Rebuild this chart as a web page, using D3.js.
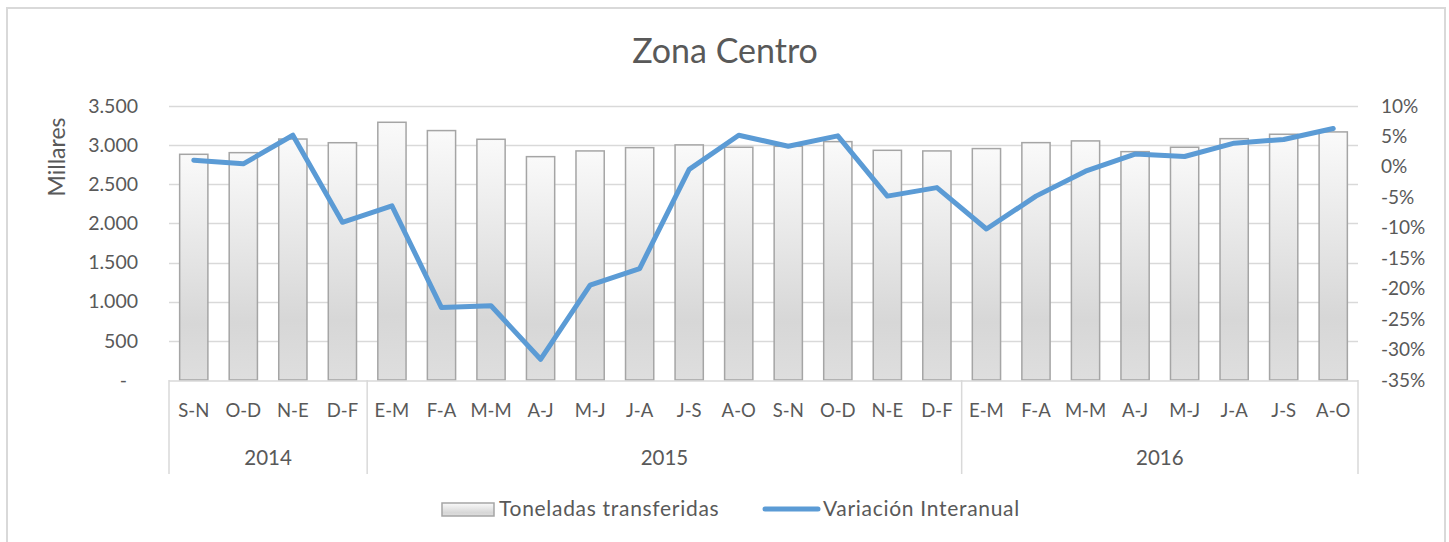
<!DOCTYPE html>
<html>
<head>
<meta charset="utf-8">
<script src="https://cdn.jsdelivr.net/npm/d3@7"></script>
<style>
  body { margin: 0; background: #fff; }
  svg text { font-family: Lato, "Open Sans", sans-serif; fill: #595959; }
</style>
</head>
<body>
<svg class="chart"></svg>
<script>
// data (Zona Centro)
const years = ["2014", "2015", "2016"];
const yearCounts = [4, 12, 8];
const periods = ["S-N", "O-D", "N-E", "D-F",
  "E-M", "F-A", "M-M", "A-J", "M-J", "J-A", "J-S", "A-O", "S-N", "O-D", "N-E", "D-F",
  "E-M", "F-A", "M-M", "A-J", "M-J", "J-A", "J-S", "A-O"];
// toneladas transferidas, millares
const toneladas = [2883, 2904, 3078, 3031,
  3292, 3186, 3075, 2853, 2926, 2968, 3003, 2973, 2985, 3045, 2934, 2926,
  2956, 3032, 3054, 2917, 2973, 3083, 3139, 3169];
// variacion interanual, %
const variacion = [1.1, 0.5, 5.2, -9.1,
  -6.4, -23.1, -22.8, -31.6, -19.4, -16.7, -0.4, 5.2, 3.4, 5.1, -4.8, -3.4,
  -10.2, -4.8, -0.7, 2.1, 1.7, 3.9, 4.5, 6.3];
const leftTicks = [0, 500, 1000, 1500, 2000, 2500, 3000, 3500];
const rightTicks = [-35, -30, -25, -20, -15, -10, -5, 0, 5, 10];

const svgWidth = 1449;
const svgHeight = 542;
const plot = {left: 169, right: 1358, top: 106, bottom: 380};

const svg = d3.select(".chart")
  .attr("width", svgWidth)
  .attr("height", svgHeight);

// chart border
svg.append("rect")
  .attr("x", 7).attr("y", 8)
  .attr("width", 1438).attr("height", 545)
  .attr("fill", "none")
  .attr("stroke", "#d9d9d9")
  .attr("stroke-width", 2);

const idx = d3.range(periods.length);

const x = d3.scaleBand()
  .domain(idx)
  .range([plot.left, plot.right])
  .paddingInner(0.43)
  .paddingOuter(0.215);

const y = d3.scaleLinear()
  .domain([0, 3500])
  .range([plot.bottom, plot.top]);

const y2 = d3.scaleLinear()
  .domain([-35, 10])
  .range([plot.bottom, plot.top]);

const es = d3.formatLocale({decimal: ",", thousands: ".", grouping: [3], currency: ["", " €"]});
const fmtLeft = d => d === 0 ? "-" : es.format(",")(d);

// gradient for bars
const grad = svg.append("defs").append("linearGradient")
  .attr("id", "barGrad")
  .attr("x1", 0).attr("y1", 0).attr("x2", 0).attr("y2", 1);
grad.append("stop").attr("offset", "0%").attr("stop-color", "#fafafa");
grad.append("stop").attr("offset", "75%").attr("stop-color", "#d7d7d7");
grad.append("stop").attr("offset", "100%").attr("stop-color", "#dedede");

// gridlines
svg.append("g")
  .selectAll("line")
  .data(leftTicks.filter(d => d > 0))
  .join("line")
  .attr("x1", plot.left).attr("x2", plot.right)
  .attr("y1", d => Math.round(y(d)) + 0.5)
  .attr("y2", d => Math.round(y(d)) + 0.5)
  .attr("stroke", "#d9d9d9")
  .attr("stroke-width", 1.5);

// left axis
const leftAxis = svg.append("g")
  .attr("transform", `translate(${plot.left - 31}, 0)`)
  .call(d3.axisLeft(y).tickValues(leftTicks).tickFormat(fmtLeft).tickSize(0).tickPadding(0));
leftAxis.select(".domain").remove();
leftAxis.selectAll("text")
  .style("font-size", "19.5px")
  .attr("dx", d => d === 0 ? -11 : 0);

// right axis
const rightAxis = svg.append("g")
  .attr("transform", `translate(${plot.right + 23}, 0)`)
  .call(d3.axisRight(y2).tickValues(rightTicks).tickFormat(d => d + "%").tickSize(0).tickPadding(0));
rightAxis.select(".domain").remove();
rightAxis.selectAll("text").style("font-size", "19px");

// axis title
svg.append("text")
  .attr("text-anchor", "middle")
  .attr("transform", `translate(57, 157) rotate(-90)`)
  .attr("dy", "0.35em")
  .style("font-size", "23px")
  .text("Millares");

// bars
svg.append("g")
  .selectAll("rect")
  .data(idx)
  .join("rect")
  .attr("x", i => x(i))
  .attr("y", i => y(toneladas[i]))
  .attr("width", x.bandwidth())
  .attr("height", i => y(0) - y(toneladas[i]))
  .attr("fill", "url(#barGrad)")
  .attr("stroke", "#a5a5a5")
  .attr("stroke-width", 1.5);

// category axis
svg.append("line")
  .attr("x1", plot.left).attr("x2", plot.right)
  .attr("y1", plot.bottom + 1).attr("y2", plot.bottom + 1)
  .attr("stroke", "#d9d9d9")
  .attr("stroke-width", 1.5);

svg.append("g")
  .selectAll("text")
  .data(idx)
  .join("text")
  .attr("x", i => x(i) + x.bandwidth() / 2)
  .attr("y", 411)
  .attr("dy", "0.35em")
  .attr("text-anchor", "middle")
  .style("font-size", "18.5px")
  .text(i => periods[i]);

// year groups
const yearStarts = yearCounts.map((c, k) => d3.sum(yearCounts.slice(0, k)));
const step = x.step();
const sepX = yearStarts.map(s => plot.left + s * step).concat([plot.right]);

svg.append("g")
  .selectAll("line")
  .data(sepX)
  .join("line")
  .attr("x1", d => d).attr("x2", d => d)
  .attr("y1", plot.bottom).attr("y2", 474)
  .attr("stroke", "#d9d9d9")
  .attr("stroke-width", 1.5);

svg.append("g")
  .selectAll("text")
  .data(years)
  .join("text")
  .attr("x", (d, k) => plot.left + (yearStarts[k] + yearCounts[k] / 2) * step)
  .attr("y", 458)
  .attr("dy", "0.35em")
  .attr("text-anchor", "middle")
  .style("font-size", "20.5px")
  .text(d => d);

// line
const line = d3.line()
  .x(i => x(i) + x.bandwidth() / 2)
  .y(i => y2(variacion[i]));

svg.append("path")
  .attr("d", line(idx))
  .attr("fill", "none")
  .attr("stroke", "#5b9bd5")
  .attr("stroke-width", 5)
  .attr("stroke-linejoin", "round")
  .attr("stroke-linecap", "round");

// title
svg.append("text")
  .attr("x", 725)
  .attr("y", 51)
  .attr("dy", "0.35em")
  .attr("text-anchor", "middle")
  .style("font-size", "34px")
  .text("Zona Centro");

// legend
const legend = svg.append("g");
legend.append("rect")
  .attr("x", 442).attr("y", 503)
  .attr("width", 52).attr("height", 13)
  .attr("fill", "url(#barGrad)")
  .attr("stroke", "#a5a5a5")
  .attr("stroke-width", 1.5);
legend.append("text")
  .attr("x", 499).attr("y", 509)
  .attr("dy", "0.35em")
  .style("font-size", "21px")
  .style("letter-spacing", "0.7px")
  .text("Toneladas transferidas");
legend.append("line")
  .attr("x1", 765).attr("x2", 818)
  .attr("y1", 509).attr("y2", 509)
  .attr("stroke", "#5b9bd5")
  .attr("stroke-width", 5)
  .attr("stroke-linecap", "round");
legend.append("text")
  .attr("x", 823).attr("y", 509)
  .attr("dy", "0.35em")
  .style("font-size", "21px")
  .style("letter-spacing", "0.7px")
  .text("Variación Interanual");
</script>
</body>
</html>
